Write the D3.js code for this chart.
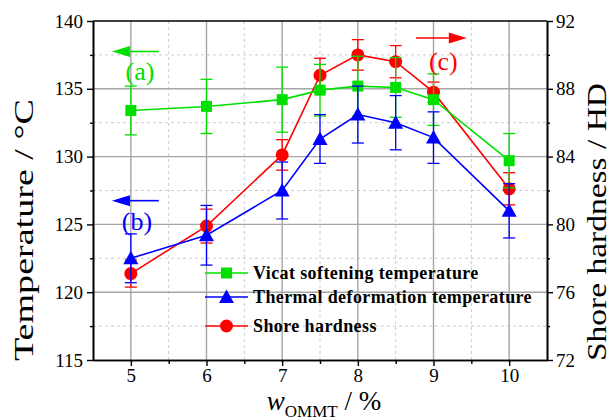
<!DOCTYPE html>
<html>
<head>
<meta charset="utf-8">
<script src="https://cdn.jsdelivr.net/npm/d3@7"></script>
<style>
  html, body { margin: 0; padding: 0; background: #fff; }
  svg { display: block; }
  text { font-family: "Liberation Serif", "Times New Roman", serif; }
</style>
</head>
<body>
<svg id="chart" width="611" height="420"></svg>
<script>
// OMMT content (wt %)
const omm = [5, 6, 7, 7.5, 8, 8.5, 9, 10];

// Vicat softening temperature (°C, left axis)
const vicat    = [133.4, 133.7, 134.2, 134.9, 135.2, 135.1, 134.2, 129.7];
const vicatErr = [1.8, 2.0, 2.4, 1.9, 2.2, 2.2, 1.9, 2.0];

// Thermal deformation temperature (°C, left axis)
const thermal    = [122.5, 124.2, 127.5, 131.3, 133.1, 132.5, 131.4, 126.0];
const thermalErr = [1.8, 2.2, 2.1, 1.8, 2.1, 2.0, 1.9, 2.0];

// Shore hardness (HD, right axis)
const shore    = [77.1, 79.9, 84.1, 88.8, 90.0, 89.6, 87.8, 82.1];
const shoreErr = [0.8, 1.0, 0.9, 1.0, 0.9, 0.95, 0.6, 0.95];

const xTicks = [5, 6, 7, 8, 9, 10];
const xMinor = [5.5, 6.5, 7.5, 8.5, 9.5];
const leftTicks = [115, 120, 125, 130, 135, 140];
const leftMinor = [117.5, 122.5, 127.5, 132.5, 137.5];
const rightTicks = [72, 76, 80, 84, 88, 92];
const rightMinor = [74, 78, 82, 86, 90];

const GREEN = "#00e000", BLUE = "#0000ff", RED = "#ff0000";
const SERIF = "Liberation Serif, Times New Roman, serif";

const margin = { top: 21, right: 64, bottom: 60, left: 93 };
const W = 611, H = 420;
const width = W - margin.left - margin.right;
const height = H - margin.top - margin.bottom;

const svg = d3.select("#chart");
const g = svg.append("g").attr("transform", `translate(${margin.left},${margin.top})`);

const x = d3.scaleLinear().domain([4.5, 10.5]).range([0, width]);
const yL = d3.scaleLinear().domain([115, 140]).range([height, 0]);
const yR = d3.scaleLinear().domain([72, 92]).range([height, 0]);

// grid
const grid = g.append("g");
xMinor.forEach(v => grid.append("line")
  .attr("x1", x(v)).attr("x2", x(v)).attr("y1", 0).attr("y2", height)
  .attr("stroke", "#cccccc").attr("stroke-width", 1).attr("stroke-dasharray", "3,3"));
leftMinor.forEach(v => grid.append("line")
  .attr("x1", 0).attr("x2", width).attr("y1", yL(v)).attr("y2", yL(v))
  .attr("stroke", "#cccccc").attr("stroke-width", 1).attr("stroke-dasharray", "3,3"));
xTicks.forEach(v => grid.append("line")
  .attr("x1", x(v)).attr("x2", x(v)).attr("y1", 0).attr("y2", height)
  .attr("stroke", "#a6a6a6").attr("stroke-width", 1.4));
leftTicks.slice(1, -1).forEach(v => grid.append("line")
  .attr("x1", 0).attr("x2", width).attr("y1", yL(v)).attr("y2", yL(v))
  .attr("stroke", "#a6a6a6").attr("stroke-width", 1.4));

// series
const series = [
  { name: "Shore hardness", vals: shore, err: shoreErr, y: yR, color: RED, shape: "circle" },
  { name: "Vicat softening temperature", vals: vicat, err: vicatErr, y: yL, color: GREEN, shape: "square" },
  { name: "Thermal deformation temperature", vals: thermal, err: thermalErr, y: yL, color: BLUE, shape: "triangle" }
];

function drawMarker(sel, shape, cx, cy, color) {
  if (shape === "circle") {
    sel.append("circle").attr("cx", cx).attr("cy", cy).attr("r", 6.5).attr("fill", color);
  } else if (shape === "square") {
    sel.append("rect").attr("x", cx - 5.5).attr("y", cy - 5.5)
      .attr("width", 11).attr("height", 11).attr("fill", color);
  } else {
    sel.append("path")
      .attr("d", `M${cx},${cy - 7.5}L${cx + 7.5},${cy + 6}L${cx - 7.5},${cy + 6}Z`)
      .attr("fill", color);
  }
}

series.forEach(s => {
  const sg = g.append("g");
  const line = d3.line().x((d, i) => x(omm[i])).y(d => s.y(d));
  sg.append("path").datum(s.vals).attr("d", line)
    .attr("fill", "none").attr("stroke", s.color).attr("stroke-width", 1.6);
  s.vals.forEach((v, i) => {
    const cx = x(omm[i]);
    const top = s.y(v + s.err[i]), bot = s.y(v - s.err[i]);
    sg.append("line").attr("x1", cx).attr("x2", cx).attr("y1", top).attr("y2", bot)
      .attr("stroke", s.color).attr("stroke-width", 1.3);
    [top, bot].forEach(yy => sg.append("line")
      .attr("x1", cx - 6).attr("x2", cx + 6).attr("y1", yy).attr("y2", yy)
      .attr("stroke", s.color).attr("stroke-width", 1.3));
    drawMarker(sg, s.shape, cx, s.y(v), s.color);
  });
});

// axes
function styleAxis(sel) {
  sel.selectAll("path").attr("stroke", "#000").attr("stroke-width", 1.6);
  sel.selectAll("line").attr("stroke", "#000").attr("stroke-width", 1.4);
  sel.selectAll("text").attr("font-size", 19).attr("fill", "#000").attr("font-family", SERIF);
}

g.append("g").attr("transform", `translate(0,${height})`)
  .call(d3.axisBottom(x).tickValues(xMinor).tickSize(4).tickSizeOuter(0).tickFormat(""))
  .call(styleAxis);
g.append("g").attr("transform", `translate(0,${height})`)
  .call(d3.axisBottom(x).tickValues(xTicks).tickSize(6).tickSizeOuter(0).tickPadding(3).tickFormat(d3.format("d")))
  .call(styleAxis);

g.append("g")
  .call(d3.axisLeft(yL).tickValues(leftMinor).tickSize(3).tickSizeOuter(0).tickFormat(""))
  .call(styleAxis);
g.append("g")
  .call(d3.axisLeft(yL).tickValues(leftTicks).tickSize(6).tickSizeOuter(0).tickPadding(4).tickFormat(d3.format("d")))
  .call(styleAxis);

g.append("g").attr("transform", `translate(${width},0)`)
  .call(d3.axisRight(yR).tickValues(rightMinor).tickSize(3).tickSizeOuter(0).tickFormat(""))
  .call(styleAxis);
g.append("g").attr("transform", `translate(${width},0)`)
  .call(d3.axisRight(yR).tickValues(rightTicks).tickSize(6).tickSizeOuter(0).tickPadding(3).tickFormat(d3.format("d")))
  .call(styleAxis);

g.append("line").attr("x1", 0).attr("x2", width).attr("y1", 0).attr("y2", 0)
  .attr("stroke", "#000").attr("stroke-width", 1.6);

// legend
const legendRows = [series[1], series[2], series[0]];
const legendY = [273, 297, 326];
const lg = svg.append("g");
legendRows.forEach((s, i) => {
  const ly = legendY[i];
  lg.append("line").attr("x1", 205).attr("x2", 248).attr("y1", ly).attr("y2", ly)
    .attr("stroke", s.color).attr("stroke-width", 1.6);
  drawMarker(lg, s.shape, 226.5, ly, s.color);
  lg.append("text").attr("x", 253).attr("y", ly + 6)
    .attr("font-family", SERIF)
    .attr("font-size", 18).attr("font-weight", "bold").attr("letter-spacing", 0.4)
    .text(s.name);
});

// annotations: arrows pointing to the axis each series belongs to
const notes = [
  { label: "(a)", color: GREEN, tx: 5.12, ty: 135.65, tail: 5.37, tip: 4.75, ay: 137.75, axis: yL },
  { label: "(b)", color: BLUE,  tx: 5.08, ty: 124.6,  tail: 5.37, tip: 4.75, ay: 126.75, axis: yL },
  { label: "(c)", color: RED,   tx: 9.13, ty: 89.1,   tail: 8.77, tip: 9.44, ay: 91.0,  axis: yR }
];
notes.forEach(n => {
  const ay = n.axis(n.ay);
  const xt = x(n.tail), xp = x(n.tip);
  const dir = xp > xt ? 1 : -1;
  const headBase = xp - dir * 18;
  g.append("line").attr("x1", xt).attr("x2", headBase).attr("y1", ay).attr("y2", ay)
    .attr("stroke", n.color).attr("stroke-width", 1.6);
  g.append("path").attr("d", `M${xp},${ay}L${headBase},${ay - 5.5}L${headBase},${ay + 5.5}Z`)
    .attr("fill", n.color);
  g.append("text").attr("x", x(n.tx)).attr("y", n.axis(n.ty))
    .attr("font-family", SERIF)
    .attr("text-anchor", "middle").attr("font-size", 26).attr("fill", n.color)
    .text(n.label);
});

// axis titles
svg.append("text")
  .attr("transform", "translate(33,230) rotate(-90)")
  .attr("font-family", SERIF)
  .attr("text-anchor", "middle").attr("font-size", 27)
  .attr("textLength", 262).attr("lengthAdjust", "spacingAndGlyphs")
  .text("Temperature / °C");

svg.append("text")
  .attr("transform", "translate(606,222) rotate(-90)")
  .attr("font-family", SERIF)
  .attr("text-anchor", "middle").attr("font-size", 27)
  .attr("textLength", 278).attr("lengthAdjust", "spacingAndGlyphs")
  .text("Shore hardness / HD");

const xt = svg.append("text").attr("x", 324).attr("y", 410)
  .attr("font-family", SERIF)
  .attr("text-anchor", "middle").attr("font-size", 27);
xt.append("tspan").attr("font-style", "italic").text("w");
xt.append("tspan").attr("font-size", 17).attr("dy", 7).text("OMMT");
xt.append("tspan").attr("dy", -7).text(" / %");
</script>
</body>
</html>
